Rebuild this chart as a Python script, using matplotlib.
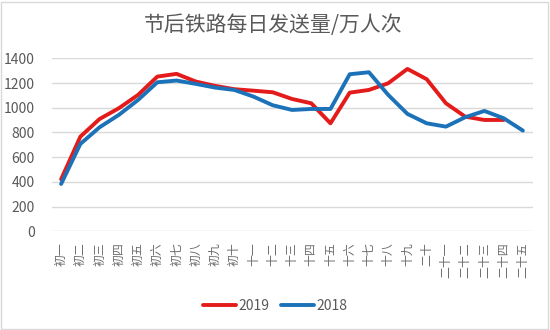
import matplotlib
matplotlib.use("Agg")
import matplotlib.pyplot as plt
from matplotlib.patches import Rectangle

plt.rcParams['font.family'] = ['Noto Sans CJK SC', 'DejaVu Sans']

title = "节后铁路每日发送量/万人次"
days = ["初一", "初二", "初三", "初四", "初五", "初六", "初七", "初八", "初九", "初十",
        "十一", "十二", "十三", "十四", "十五", "十六", "十七", "十八", "十九", "二十",
        "二十一", "二十二", "二十三", "二十四", "二十五"]
y2019 = [421, 766, 909, 996, 1104, 1252, 1274, 1212, 1177, 1150,
         1138, 1125, 1071, 1036, 874, 1122, 1144, 1198, 1314, 1231,
         1036, 928, 901, 901]
y2018 = [383, 707, 842, 942, 1063, 1206, 1220, 1193, 1163, 1144,
         1090, 1020, 982, 990, 990, 1271, 1287, 1104, 950, 874,
         847, 923, 974, 915, 815]
yticks = [0, 200, 400, 600, 800, 1000, 1200, 1400]

text_color = "#595959"
grid_color = "#D9D9D9"

fig = plt.figure(figsize=(5.5, 3.3), dpi=100)
ax = fig.add_axes([51.5 / 550, 98.7 / 330, 481 / 550, 173 / 330])

x19 = list(range(len(y2019)))
x18 = list(range(len(y2018)))
l19, = ax.plot(x19, y2019, color="#E31B1B", lw=2.8, solid_capstyle="round",
               solid_joinstyle="round", label="2019", zorder=3)
l18, = ax.plot(x18, y2018, color="#1C72B8", lw=2.8, solid_capstyle="round",
               solid_joinstyle="round", label="2018", zorder=4)

ax.set_xlim(-0.5, len(days) - 0.5)
ax.set_ylim(0, 1400)
ax.set_yticks(yticks)
ax.set_yticklabels([str(v) for v in yticks])
ax.set_xticks(range(len(days)))
ax.set_xticklabels(days, rotation=90, va="top", ha="center")

ax.grid(axis="y", color=grid_color, lw=1)
ax.set_axisbelow(True)
for s in ax.spines.values():
    s.set_visible(False)
ax.tick_params(axis="both", length=0)
ax.tick_params(axis="y", labelsize=10, pad=12, labelcolor=text_color)
ax.tick_params(axis="x", labelsize=8.6, pad=8, labelcolor="#6E6E6E")

fig.text(273 / 550, 305 / 330, title, ha="center", va="center",
         fontsize=15, color=text_color)

leg = fig.legend(handles=[l19, l18], loc="center", bbox_to_anchor=(0.5, 24 / 330),
                 ncol=2, frameon=False, fontsize=10, handlelength=2.4,
                 handletextpad=0.15, columnspacing=0.8)
for t in leg.get_texts():
    t.set_color(text_color)

fig.patches.append(Rectangle((0.002, 0.004), 0.994, 0.99, transform=fig.transFigure,
                             fill=False, edgecolor=grid_color, lw=1))

fig.savefig("out.png", dpi=100)
